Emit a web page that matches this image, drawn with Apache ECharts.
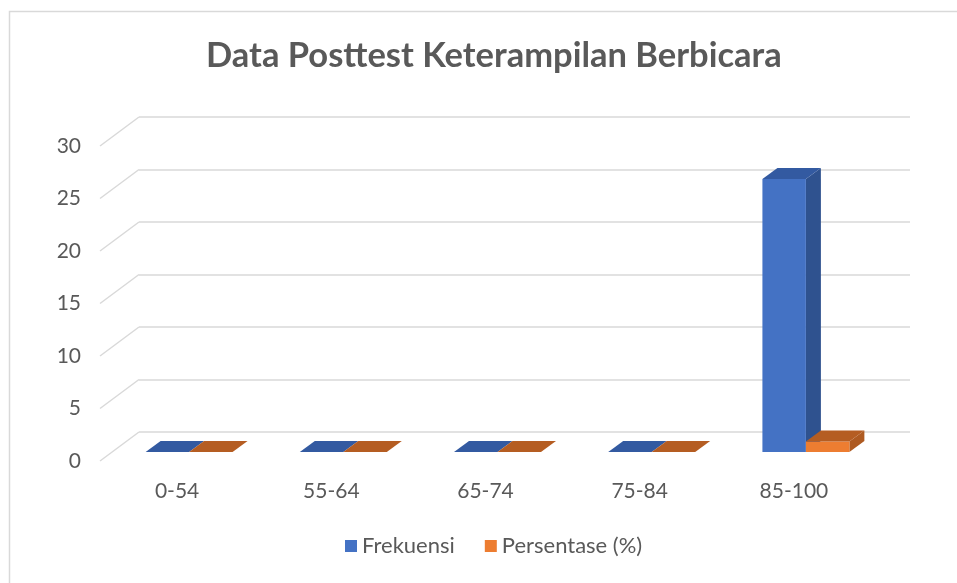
<!DOCTYPE html>
<html>
<head>
<meta charset="utf-8">
<script src="https://cdn.jsdelivr.net/npm/echarts@6/dist/echarts.min.js"></script>
<style>
  html, body { margin: 0; padding: 0; background: #fff; }
  #chart { width: 957px; height: 583px; }
</style>
</head>
<body>
<div id="chart"></div>
<script>
const categories = ["0-54", "55-64", "65-74", "75-84", "85-100"];
const frekuensi = [0, 0, 0, 0, 26];
const persentase = [0, 0, 0, 0, 1];
const yTicks = [0, 5, 10, 15, 20, 25, 30];

const chart = echarts.init(document.getElementById("chart"));

// depth offsets for the fake 3D look
const WALL_DX = -39, WALL_DY = 29;   // back wall -> front edge of floor
const BAR_DX = -27, BAR_DY = 20;     // back wall -> front face of bars
const DEPTH_DX = 15, DEPTH_DY = -11; // front face -> back face of a bar

function bar3d(colors, side) {
  return function (params, api) {
    const i = api.value(0);
    const base = api.coord([i, 0]);
    const top = api.coord([i, api.value(1)]);
    const w = api.size([1, 0])[0] * 0.282;
    const x0 = (side < 0 ? base[0] - w : base[0]) + BAR_DX;
    const x1 = x0 + w;
    const yb = base[1] + BAR_DY;
    const yt = top[1] + BAR_DY;
    return {
      type: "group",
      children: [
        {
          type: "polygon",
          shape: { points: [[x1, yt], [x1 + DEPTH_DX, yt + DEPTH_DY], [x1 + DEPTH_DX, yb + DEPTH_DY], [x1, yb]] },
          style: { fill: colors.side }
        },
        {
          type: "rect",
          shape: { x: x0, y: yt, width: w, height: yb - yt },
          style: { fill: colors.front }
        },
        {
          type: "polygon",
          shape: { points: [[x0, yt], [x0 + DEPTH_DX, yt + DEPTH_DY], [x1 + DEPTH_DX, yt + DEPTH_DY], [x1, yt]] },
          style: { fill: colors.top }
        }
      ]
    };
  };
}

const option = {
  animation: false,
  textStyle: { fontFamily: "Lato", color: "#595959" },
  title: {
    text: "Data Posttest Keterampilan Berbicara",
    left: 201,
    top: 33,
    textStyle: { fontSize: 34.5, fontWeight: "bold", color: "#595959", fontFamily: "Lato" }
  },
  legend: {
    bottom: 21,
    left: 340,
    icon: "rect",
    itemWidth: 12,
    itemHeight: 12,
    itemGap: 30,
    textStyle: { fontSize: 22, color: "#595959", fontFamily: "Lato" },
    data: ["Frekuensi", "Persentase (%)"]
  },
  graphic: [
    {
      type: "polyline",
      shape: { points: [[9.5, 583], [9.5, 11.5], [957, 11.5]] },
      style: { stroke: "#d9d9d9", lineWidth: 1.5, fill: null }
    }
  ],
  grid: [
    { left: 139, right: 47, top: 117, bottom: 151 },
    { left: 139 + WALL_DX, right: 47 - WALL_DX, top: 117 + WALL_DY, bottom: 151 - WALL_DY }
  ],
  xAxis: [
    { gridIndex: 0, type: "category", data: categories, show: false },
    {
      gridIndex: 1, type: "category", data: categories,
      axisLine: { show: false }, axisTick: { show: false },
      axisLabel: { fontSize: 21, color: "#595959", margin: 20, fontFamily: "Lato" }
    }
  ],
  yAxis: [
    {
      gridIndex: 0, type: "value", min: 0, max: 30, interval: 5,
      axisLine: { show: false }, axisTick: { show: false }, axisLabel: { show: false },
      splitLine: { lineStyle: { color: "#d9d9d9", width: 1.5 } }
    },
    {
      gridIndex: 1, type: "value", min: 0, max: 30, interval: 5,
      axisLine: { show: false }, axisTick: { show: false }, splitLine: { show: false },
      axisLabel: { fontSize: 21, color: "#595959", margin: 19, fontFamily: "Lato" }
    }
  ],
  series: [
    {
      name: "floor",
      type: "custom",
      silent: true,
      xAxisIndex: 0, yAxisIndex: 0,
      data: yTicks.map(v => [0, v]),
      renderItem: function (params, api) {
        const p = api.coord([0, api.value(1)]);
        const x = params.coordSys.x;
        return {
          type: "line",
          shape: { x1: x, y1: p[1], x2: x + WALL_DX, y2: p[1] + WALL_DY },
          style: { stroke: "#d9d9d9", lineWidth: 1.5 }
        };
      },
      z: 1
    },
    {
      name: "Frekuensi",
      type: "custom",
      xAxisIndex: 0, yAxisIndex: 0,
      itemStyle: { color: "#4472C4" },
      data: frekuensi.map((v, i) => [i, v]),
      renderItem: bar3d({ front: "#4472C4", side: "#2F528F", top: "#335AA1" }, -1),
      z: 2
    },
    {
      name: "Persentase (%)",
      type: "custom",
      xAxisIndex: 0, yAxisIndex: 0,
      itemStyle: { color: "#ED7D31" },
      data: persentase.map((v, i) => [i, v]),
      renderItem: bar3d({ front: "#ED7D31", side: "#AE5A21", top: "#B55D22" }, 1),
      z: 3
    }
  ]
};

chart.setOption(option);
</script>
</body>
</html>
